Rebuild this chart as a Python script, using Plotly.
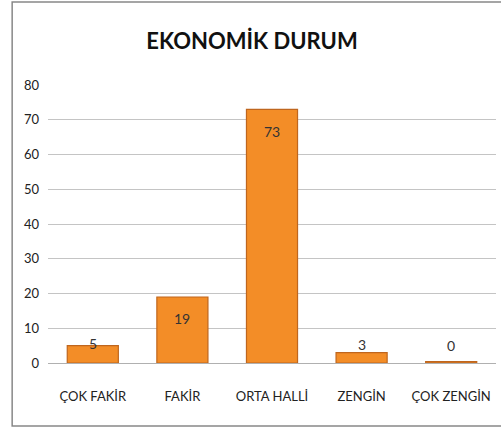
import plotly.graph_objects as go

categories = ["ÇOK FAKİR", "FAKİR", "ORTA HALLİ", "ZENGİN", "ÇOK ZENGİN"]
values = [5, 19, 73, 3, 0]
y_ticks = [0, 10, 20, 30, 40, 50, 60, 70, 80]

FONT = "Lato, sans-serif"

# zero-valued bars are drawn as a thin sliver as in the reference
display_vals = [v if v > 0 else 0.4 for v in values]

fig = go.Figure(go.Bar(
    x=categories,
    y=display_vals,
    marker=dict(color="#F38D27", line=dict(color="#BF661E", width=1.2)),
    width=0.57,
    hoverinfo="skip",
))

# value labels: inside near the top for tall bars, just above for short ones
for cat, v in zip(categories, values):
    if v >= 10:
        shift = -22
    elif v > 0:
        shift = 8 if v < 4 else 2
    else:
        shift = 18
    fig.add_annotation(x=cat, y=v, text=str(v), showarrow=False, yshift=shift,
                       font=dict(family=FONT, size=14, color="#333333"))

fig.update_layout(
    width=501, height=430,
    margin=dict(l=48, r=5, t=85, b=67),
    paper_bgcolor="white",
    plot_bgcolor="white",
    showlegend=False,
    title=dict(text="<b>EKONOMİK DURUM</b>", x=0.503, xanchor="center", y=0.905, yanchor="middle",
               font=dict(family=FONT, size=22, color="#111111")),
    font=dict(family=FONT, size=13, color="#222222"),
)
fig.update_xaxes(
    showgrid=False, showline=False, ticks="", tickfont=dict(family=FONT, size=13, color="#222222"),
    ticklabelstandoff=24,
)
fig.update_yaxes(
    range=[0, 80], tickvals=y_ticks, showgrid=True, gridcolor="#C4C4C4", gridwidth=1,
    showline=False, zeroline=True, zerolinecolor="#B0B0B0", zerolinewidth=1,
    tickfont=dict(family=FONT, size=13, color="#222222"), ticks="", ticklabelstandoff=8,
)
# outer chart border
fig.add_shape(type="rect", xref="paper", yref="paper",
              x0=-0.08, x1=1.2, y0=-0.2266, y1=1.2986,
              line=dict(color="#888888", width=1.5), fillcolor="rgba(0,0,0,0)", layer="below")

fig.write_html("out.html", config={"displayModeBar": False},
               post_script="document.body.style.margin='0';document.body.style.overflow='hidden';document.documentElement.style.overflow='hidden';")
